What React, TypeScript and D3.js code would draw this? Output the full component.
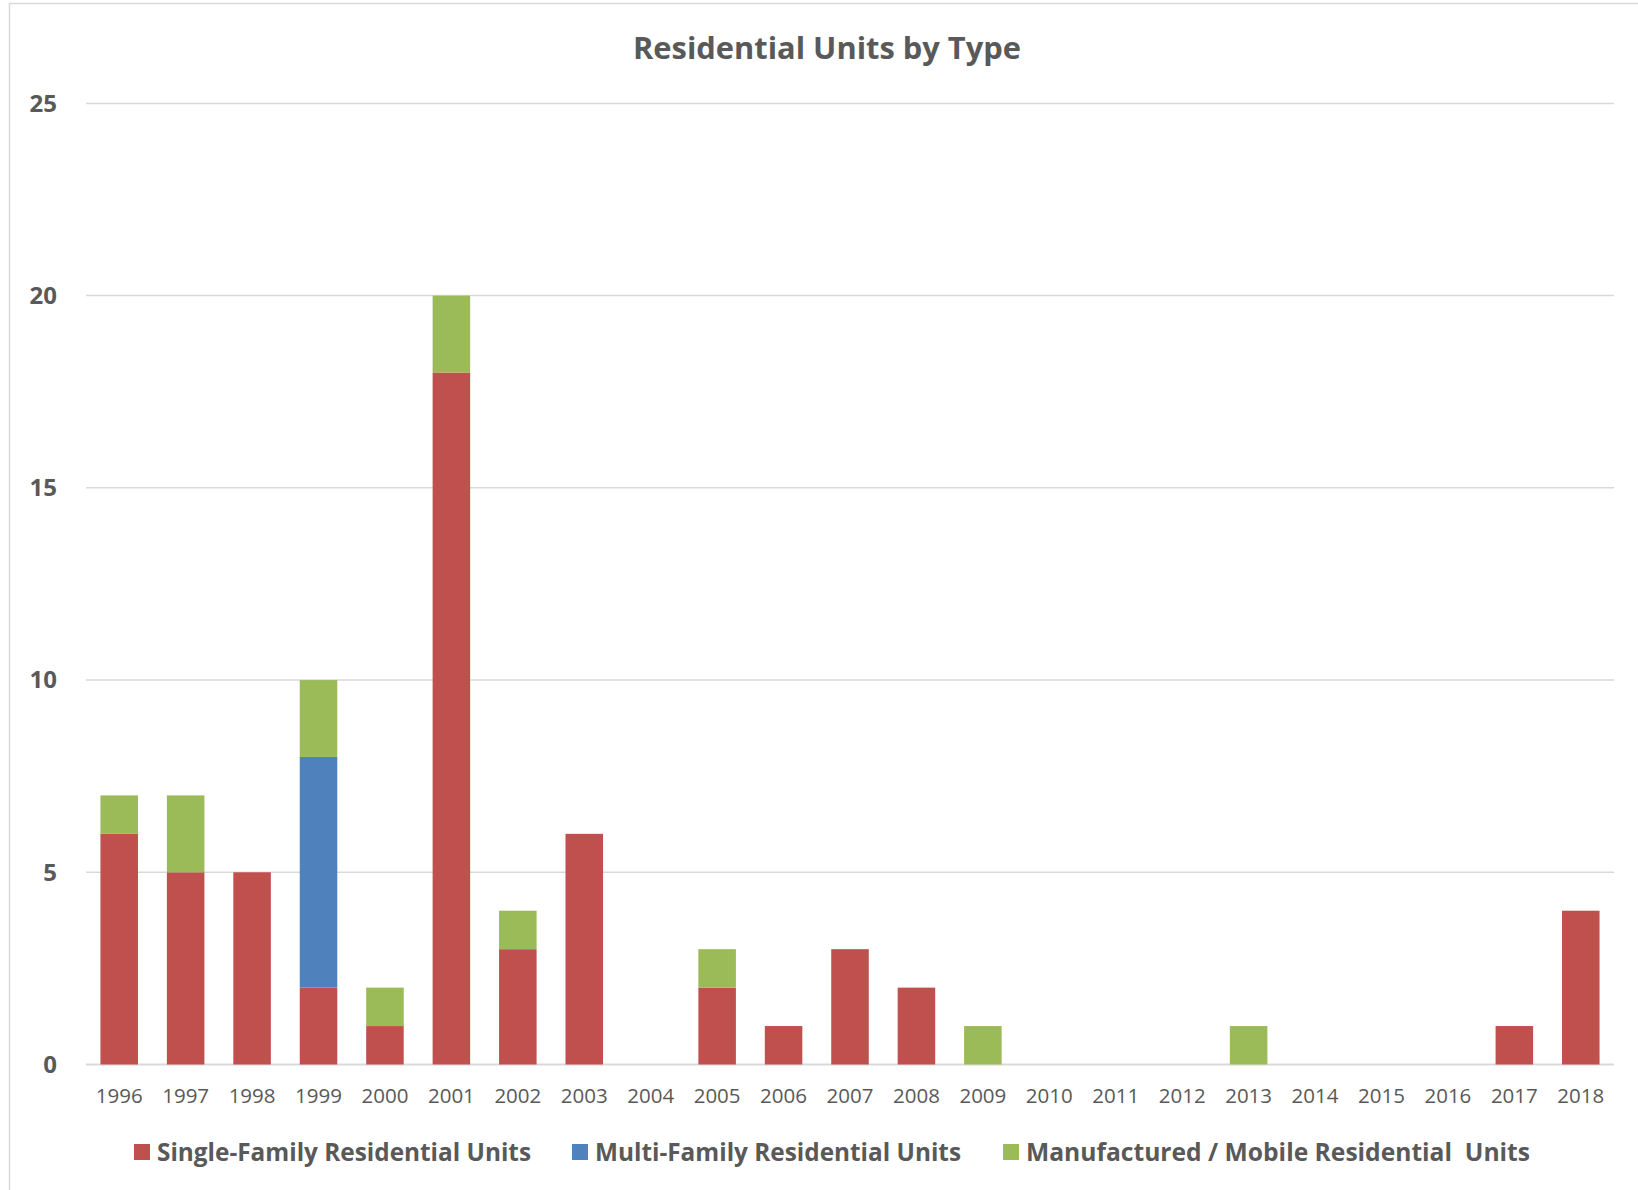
import { scaleBand, scaleLinear, stack } from 'd3'

const years = ['1996', '1997', '1998', '1999', '2000', '2001', '2002', '2003', '2004', '2005', '2006', '2007',
  '2008', '2009', '2010', '2011', '2012', '2013', '2014', '2015', '2016', '2017', '2018']
const singleFamily = [6, 5, 5, 2, 1, 18, 3, 6, 0, 2, 1, 3, 2, 0, 0, 0, 0, 0, 0, 0, 0, 1, 4]
const multiFamily = [0, 0, 0, 6, 0, 0, 0, 0, 0, 0, 0, 0, 0, 0, 0, 0, 0, 0, 0, 0, 0, 0, 0]
const manufactured = [1, 2, 0, 2, 1, 2, 1, 0, 0, 1, 0, 0, 0, 1, 0, 0, 0, 1, 0, 0, 0, 0, 0]
const seriesNames = ['Single-Family Residential Units', 'Multi-Family Residential Units', 'Manufactured / Mobile Residential  Units']
const yTicks = [0, 5, 10, 15, 20, 25]

const colors = ['#C0504D', '#4F81BD', '#9BBB59']
const textColor = '#595959'
const font = '"Open Sans", sans-serif'

const App = () => {
  const width = 1638
  const height = 1190
  const plot = { left: 86, right: 1614, top: 103.4, bottom: 1064.5 }

  const xScale = scaleBand().domain(years).range([plot.left, plot.right]).paddingInner(0.435).paddingOuter(0.2175)
  const yScale = scaleLinear().domain([0, 25]).range([plot.bottom, plot.top])

  const rows = years.map((y, i) => ({ year: y, s0: singleFamily[i], s1: multiFamily[i], s2: manufactured[i] }))
  const stacked = stack<any>().keys(['s0', 's1', 's2'])(rows)

  // legend layout (squares + label widths)
  const legendX = [134, 572, 1003]
  const legendW = [374, 366, 504]

  return (
    <div style={{ position: 'absolute', left: 0, top: 0 }}>
      <svg width={width} height={height} style={{ display: 'block' }}>
        <rect x={0} y={0} width={width} height={height} fill="#fff" />
        <rect x={9.5} y={3.5} width={width + 20} height={height + 20} fill="none" stroke="#D9D9D9" strokeWidth={1.5} />
        <text x={633} y={59} textLength={388} lengthAdjust="spacingAndGlyphs" fontFamily={font} fontWeight="bold" fontSize={30} fill={textColor}>
          Residential Units by Type
        </text>
        {yTicks.map(t => (
          <g key={t}>
            <line x1={plot.left} x2={plot.right} y1={yScale(t)} y2={yScale(t)} stroke="#D9D9D9" strokeWidth={t === 0 ? 2 : 1.5} />
            <text x={57} y={yScale(t)} dy="0.35em" textAnchor="end" fontFamily={font} fontWeight="bold" fontSize={24} fill={textColor}>
              {t}
            </text>
          </g>
        ))}
        {stacked.map((layer, si) => (
          <g key={si} fill={colors[si]}>
            {layer.map((d, i) => {
              if (d[1] - d[0] <= 0) return null
              return (
                <rect key={i} x={xScale(years[i])} width={xScale.bandwidth()} y={yScale(d[1])} height={yScale(d[0]) - yScale(d[1])} />
              )
            })}
          </g>
        ))}
        {years.map(y => (
          <text key={y} x={(xScale(y) || 0) + xScale.bandwidth() / 2} y={1103} textAnchor="middle" fontFamily={font} fontSize={20.5} fill={textColor}>
            {y}
          </text>
        ))}
        {seriesNames.map((name, i) => (
          <g key={name}>
            <rect x={legendX[i]} y={1144} width={16} height={16} fill={colors[i]} />
            <text x={legendX[i] + 23} y={1161} textLength={legendW[i]} lengthAdjust="spacingAndGlyphs" fontFamily={font} fontWeight="bold" fontSize={25} fill={textColor} style={{ whiteSpace: 'pre' }}>
              {name}
            </text>
          </g>
        ))}
      </svg>
    </div>
  )
}

export default App
